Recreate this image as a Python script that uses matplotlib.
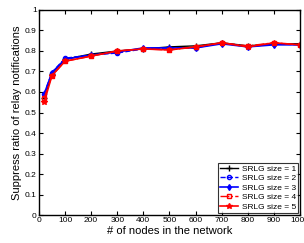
import matplotlib
matplotlib.use("Agg")
import matplotlib.pyplot as plt

plt.rcParams['font.family'] = ['Liberation Sans', 'DejaVu Sans']

nodes = [20, 50, 100, 200, 300, 400, 500, 600, 700, 800, 900, 1000]
s1 = [0.57, 0.69, 0.76, 0.785, 0.80, 0.81, 0.82, 0.825, 0.84, 0.825, 0.835, 0.835]
s2 = [0.59, 0.695, 0.765, 0.78, 0.79, 0.81, 0.815, 0.815, 0.84, 0.82, 0.835, 0.83]
s3 = [0.59, 0.695, 0.76, 0.78, 0.795, 0.815, 0.815, 0.815, 0.835, 0.82, 0.83, 0.83]
s4 = [0.57, 0.68, 0.75, 0.775, 0.80, 0.81, 0.805, 0.82, 0.84, 0.825, 0.84, 0.83]
s5 = [0.55, 0.68, 0.75, 0.775, 0.80, 0.81, 0.805, 0.82, 0.84, 0.82, 0.84, 0.83]
labels = ['SRLG size = 1', 'SRLG size = 2', 'SRLG size = 3', 'SRLG size = 4', 'SRLG size = 5']

fig = plt.figure(figsize=(3.04, 2.43), dpi=100)
ax = fig.add_axes([0.128, 0.115, 0.859, 0.844])

ax.plot(nodes, s1, color='black', ls='-', marker='+', ms=4, lw=1, label=labels[0])
ax.plot(nodes, s2, color='blue', ls='--', marker='o', mfc='none', ms=3, lw=1, label=labels[1])
ax.plot(nodes, s3, color='blue', ls='-', marker='d', ms=3, lw=1.2, label=labels[2])
ax.plot(nodes, s4, color='red', ls='-.', marker='s', mfc='none', ms=3, lw=1, label=labels[3])
ax.plot(nodes, s5, color='red', ls='-', marker='*', ms=4, lw=1.2, label=labels[4])

ax.set_xlim(0, 1000)
ax.set_ylim(0, 1)
ax.set_xticks(range(0, 1001, 100))
ax.set_yticks([i / 10 for i in range(11)])
ax.set_yticklabels(['0', '0.1', '0.2', '0.3', '0.4', '0.5', '0.6', '0.7', '0.8', '0.9', '1'])
ax.tick_params(direction='in', labelsize=6, length=3, width=0.8, top=True, right=True, pad=1.5)
for sp in ax.spines.values():
    sp.set_linewidth(1)

ax.set_xlabel('# of nodes in the network', fontsize=8, labelpad=1)
ax.set_ylabel('Suppress ratio of relay notifications', fontsize=8, labelpad=2)

leg = ax.legend(loc='lower right', fontsize=6, frameon=True, fancybox=False,
                edgecolor='black', borderpad=0.25, labelspacing=0.2,
                handlelength=2.2, handletextpad=0.4, borderaxespad=0.25)
leg.get_frame().set_linewidth(0.8)

fig.savefig('out.png', dpi=100)
